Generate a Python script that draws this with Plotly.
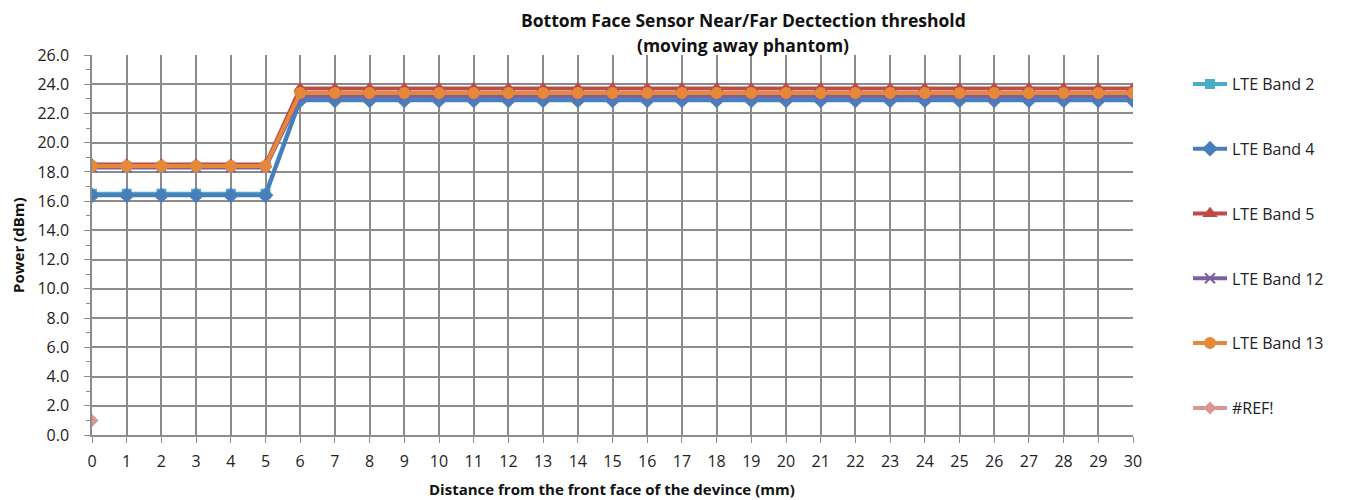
import plotly.graph_objects as go

distance = list(range(0, 31))
band2 = [16.5] * 6 + [23.0] * 25
band4 = [16.4] * 6 + [22.9] * 25
band5 = [18.5] * 6 + [23.7] * 25
band12 = [18.3] * 6 + [23.2] * 25
band13 = [18.4] * 6 + [23.4] * 25
ref_x = [0]
ref_y = [1.0]

series = [
    ("LTE Band 2", band2, "#4BACC6", "square", 8),
    ("LTE Band 4", band4, "#4A7EBB", "diamond", 10),
    ("LTE Band 5", band5, "#BE4B48", "triangle-up", 10),
    ("LTE Band 12", band12, "#7D60A0", "x-thin-open", 10),
    ("LTE Band 13", band13, "#E6883A", "circle", 10),
]

fig = go.Figure()
for i, (name, ys, col, sym, sz) in enumerate(series):
    fig.add_trace(go.Scatter(
        x=distance, y=ys, name=name, mode="lines+markers",
        line=dict(color=col, width=4),
        marker=dict(symbol=sym, size=sz, color=col, line=dict(color=col, width=2)),
        legendgroup=str(i),
    ))
fig.add_trace(go.Scatter(
    x=ref_x, y=ref_y, name="#REF!", mode="lines+markers",
    line=dict(color="#D99694", width=4),
    marker=dict(symbol="diamond", size=10, color="#D99694"),
    legendgroup="5",
))

font = "Open Sans, Liberation Sans, sans-serif"
# the page body adds an 8px margin; figure is sized to fit inside the window
OFF = 8
FW, FH = 1352 - OFF, 500 - OFF
H = 435 - 55
W = 1133 - 92


def py(p):
    return (435 - p) / H


def px(p):
    return (p - 92) / W


fig.update_layout(
    width=FW, height=FH,
    margin=dict(l=92 - OFF, r=FW - (1133 - OFF), t=55 - OFF, b=FH - (435 - OFF),
                autoexpand=False),
    paper_bgcolor="white", plot_bgcolor="white",
    font=dict(family=font, size=15, color="#222222"),
    legend=dict(
        x=px(1188), xanchor="left", y=py(67), yanchor="top",
        tracegroupgap=41, font=dict(size=16), itemwidth=34,
        bgcolor="rgba(0,0,0,0)",
    ),
    showlegend=True,
    annotations=[
        dict(text="<b>Bottom Face Sensor Near/Far Dectection threshold</b>",
             x=px(743), y=py(20), xref="paper", yref="paper", showarrow=False,
             xanchor="center", yanchor="middle", font=dict(size=17.5, color="#111111")),
        dict(text="<b>(moving away phantom)</b>",
             x=px(743), y=py(45), xref="paper", yref="paper", showarrow=False,
             xanchor="center", yanchor="middle", font=dict(size=17.5, color="#111111")),
        dict(text="<b>Power (dBm)</b>", textangle=-90,
             x=px(18), y=py(245), xref="paper", yref="paper", showarrow=False,
             xanchor="center", yanchor="middle", font=dict(size=15, color="#111111")),
        dict(text="<b>Distance from the front face of the devince (mm)</b>",
             x=px(612), y=py(489), xref="paper", yref="paper", showarrow=False,
             xanchor="center", yanchor="middle", font=dict(size=15, color="#111111")),
    ],
)
fig.update_xaxes(
    range=[0, 30], tickmode="linear", tick0=0, dtick=1,
    showgrid=True, gridcolor="#8C8C8C", gridwidth=1.5,
    showline=True, linecolor="#8C8C8C", linewidth=1.5,
    ticks="outside", ticklen=6, tickcolor="#8C8C8C",
    zeroline=False, tickfont=dict(size=16), automargin=False,
    ticklabelstandoff=5,
)
fig.update_yaxes(
    range=[0, 26], tickmode="linear", tick0=0, dtick=2, tickformat=".1f",
    showgrid=True, gridcolor="#8C8C8C", gridwidth=1.5,
    showline=True, linecolor="#8C8C8C", linewidth=1.5,
    ticks="outside", ticklen=6, tickcolor="#8C8C8C",
    minor=dict(dtick=1, ticks="outside", ticklen=4, tickcolor="#8C8C8C", showgrid=False),
    zeroline=False, tickfont=dict(size=16), automargin=False,
    ticklabelstandoff=12,
)

fig.write_html("out.html")
